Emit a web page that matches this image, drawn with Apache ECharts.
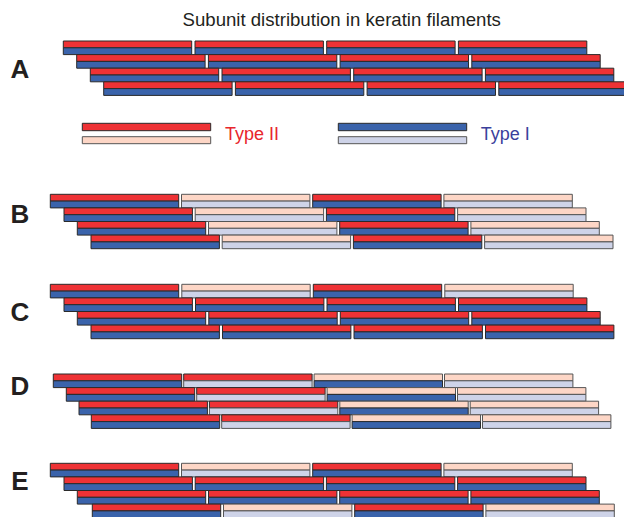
<!DOCTYPE html>
<html><head><meta charset="utf-8">
<script src="https://cdn.jsdelivr.net/npm/echarts@6/dist/echarts.min.js"></script>
<style>html,body{margin:0;padding:0;background:#fff}#c{width:624px;height:517px}</style>
</head><body><div id="c"></div>
<script>
// ---- data ----
const titleText = 'Subunit distribution in keratin filaments';
const panelLabels = ['A', 'B', 'C', 'D', 'E'];
const panelTop = [41, 194.3, 284.3, 374, 463.3];      // filament layout position of first row
const labelY = [68.5, 214, 312, 385.5, 481];
const rowHeight = 13.6;
const dimerLength = 128.4;
const panelPitch = [131.7, 131.2, 131.5, 130.4, 131.2];
const rowStartA = [63.3, 76.7, 90.3, 103.7];
const rowStartB = [50.3, 64, 77.3, 91];
const rowStartC = [50.3, 64, 77.3, 91];
const rowStartD = [53.3, 66.3, 79, 91.3];
const rowStartE = [50.3, 64, 77.3, 92.3];
// 1 = dark (labelled) subunit, 0 = light subunit ; 4 rows x 4 dimers
const typeII_A = [[1,1,1,1],[1,1,1,1],[1,1,1,1],[1,1,1,1]];
const typeI_A  = [[1,1,1,1],[1,1,1,1],[1,1,1,1],[1,1,1,1]];
const typeII_B = [[1,0,1,0],[1,0,1,0],[1,0,1,0],[1,0,1,0]];
const typeI_B  = [[1,0,1,0],[1,0,1,0],[1,0,1,0],[1,0,1,0]];
const typeII_C = [[1,0,1,0],[1,1,1,1],[1,1,1,1],[1,1,1,1]];
const typeI_C  = [[1,0,1,0],[1,1,1,1],[1,1,1,1],[1,1,1,1]];
const typeII_D = [[1,1,0,0],[1,1,0,0],[1,1,0,0],[1,1,0,0]];
const typeI_D  = [[1,0,1,0],[1,0,1,0],[1,0,1,0],[1,0,1,0]];
const typeII_E = [[1,0,1,0],[1,1,1,1],[1,1,1,1],[1,0,1,0]];
const typeI_E  = [[1,0,1,0],[1,1,1,1],[1,1,1,1],[1,0,1,0]];
// legend
const legendNames = ['Type II', 'Type I'];
const legendBarX = [[82.3, 210.7], [338.3, 466.7]];
const legendBarY = [[123.3, 130.7], [136.7, 143.7]];
const legendTextX = [225, 480.7];
const legendTextY = 134;
const titleX = 341.7, titleY = 19.5;

// ---- styles ----
const fills = ['#ee3235', '#fdd6c6', '#3a63ab', '#ced3e8'];   // red, pink, blue, light blue
const strokes = ['#2a2a2a', '#555555', '#2a2a2a', '#555555'];
const legendTextColor = ['#e8262c', '#3b3f9c'];

const rowStarts = [rowStartA, rowStartB, rowStartC, rowStartD, rowStartE];
const typeII = [typeII_A, typeII_B, typeII_C, typeII_D, typeII_E];
const typeI = [typeI_A, typeI_B, typeI_C, typeI_D, typeI_E];

const bars = [];   // [x0, x1, y0, y1, colorKey]
panelLabels.forEach((p, pi) => {
  for (let r = 0; r < 4; r++) {
    const y0 = panelTop[pi] + r * rowHeight;
    for (let d = 0; d < 4; d++) {
      const x0 = rowStarts[pi][r] + d * panelPitch[pi];
      const x1 = x0 + dimerLength;
      bars.push([x0, x1, y0, y0 + rowHeight / 2, typeII[pi][r][d] ? 0 : 1]);
      bars.push([x0, x1, y0 + rowHeight / 2, y0 + rowHeight, typeI[pi][r][d] ? 2 : 3]);
    }
  }
});
// legend bars
bars.push([legendBarX[0][0], legendBarX[0][1], legendBarY[0][0], legendBarY[0][1], 0]);
bars.push([legendBarX[0][0], legendBarX[0][1], legendBarY[1][0], legendBarY[1][1], 1]);
bars.push([legendBarX[1][0], legendBarX[1][1], legendBarY[0][0], legendBarY[0][1], 2]);
bars.push([legendBarX[1][0], legendBarX[1][1], legendBarY[1][0], legendBarY[1][1], 3]);

const letterData = panelLabels.map((l, i) => [20, labelY[i], l]);
const legendTextData = legendNames.map((n, i) => [legendTextX[i], legendTextY, n, i]);

const chart = echarts.init(document.getElementById('c'), null, { renderer: 'svg' });
chart.setOption({
  animation: false,
  backgroundColor: '#fff',
  grid: { left: 0, right: 0, top: 0, bottom: 0 },
  xAxis: { type: 'value', min: 0, max: 624, show: false },
  yAxis: { type: 'value', min: 0, max: 517, inverse: true, show: false },
  series: [
    {
      type: 'custom', data: bars, clip: true,
      renderItem(params, api) {
        const a = api.coord([api.value(0), api.value(2)]);
        const b = api.coord([api.value(1), api.value(3)]);
        const k = api.value(4);
        return {
          type: 'rect',
          shape: { x: a[0], y: a[1], width: b[0] - a[0], height: b[1] - a[1] },
          style: { fill: fills[k], stroke: strokes[k], lineWidth: 1 }
        };
      }
    },
    {
      type: 'custom', data: letterData,
      renderItem(params, api) {
        const p = api.coord([api.value(0), api.value(1)]);
        return {
          type: 'text', x: p[0], y: p[1],
          style: { text: letterData[params.dataIndex][2], fill: '#231f20', font: 'bold 26px Liberation Sans, Arial, sans-serif', align: 'center', verticalAlign: 'middle' }
        };
      }
    },
    {
      type: 'custom', data: legendTextData,
      renderItem(params, api) {
        const p = api.coord([api.value(0), api.value(1)]);
        const i = legendTextData[params.dataIndex][3];
        return {
          type: 'text', x: p[0], y: p[1],
          style: { text: legendTextData[params.dataIndex][2], fill: legendTextColor[i], font: '18px Liberation Sans, Arial, sans-serif', align: 'left', verticalAlign: 'middle' }
        };
      }
    },
    {
      type: 'custom', data: [[titleX, titleY]],
      renderItem(params, api) {
        const p = api.coord([api.value(0), api.value(1)]);
        return {
          type: 'text', x: p[0], y: p[1],
          style: { text: titleText, fill: '#231f20', font: '18.6px Liberation Sans, Arial, sans-serif', align: 'center', verticalAlign: 'middle' }
        };
      }
    }
  ]
});
</script>
</body></html>
